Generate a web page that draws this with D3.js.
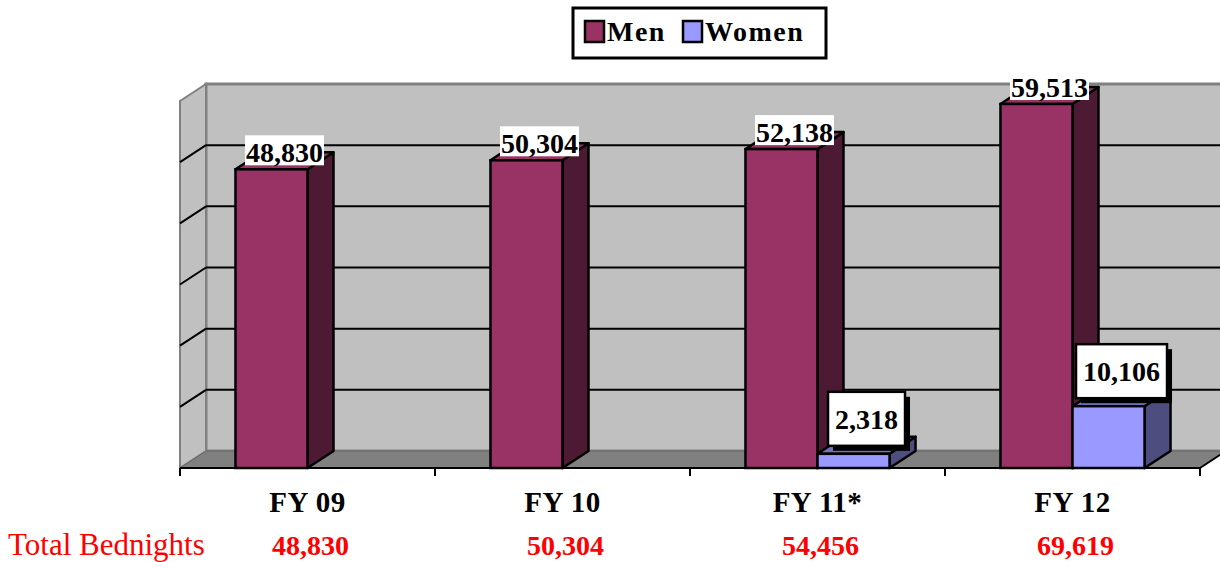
<!DOCTYPE html>
<html>
<head>
<meta charset="utf-8">
<script src="https://cdn.jsdelivr.net/npm/d3@7"></script>
<style>
  body { margin: 0; background: #fff; }
  svg { display: block; }
  text { font-family: "Liberation Serif", "Times New Roman", serif; }
</style>
</head>
<body>
<div id="chart"></div>
<script>
// data
var categories = ["FY 09", "FY 10", "FY 11*", "FY 12"];
var seriesNames = ["Men", "Women"];
var menValues = [48830, 50304, 52138, 59513];
var womenValues = [null, null, 2318, 10106];
var totalBednights = [48830, 50304, 54456, 69619];
var gridValues = [0, 10000, 20000, 30000, 40000, 50000, 60000];

var width = 1220, height = 562;

// depth of the fake 3d box
var depthX = 26, depthY = -17;

var colors = {
  Men: { front: "#993366", top: "#993366", side: "#4d1a33" },
  Women: { front: "#9999ff", top: "#7373c0", side: "#4d4d80" }
};

var svg = d3.select("#chart").append("svg")
    .attr("width", width)
    .attr("height", height);

// x scale on the front plane
var x = d3.scaleBand()
    .domain(categories)
    .range([180, 1200])
    .padding(0);

var xSub = d3.scaleBand()
    .domain(seriesNames)
    .range([0, x.bandwidth()])
    .paddingInner(0)
    .paddingOuter(0.77);

// y scale on the back wall, front plane is shifted by the depth
var yBack = d3.scaleLinear().domain([0, 60000]).range([451, 84]);
function yFront(v) { return yBack(v) - depthY; }

var x0 = x.range()[0], x1 = x.range()[1];
var fmt = d3.format(",");

// back wall
svg.append("rect")
    .attr("x", x0 + depthX)
    .attr("y", yBack(60000))
    .attr("width", x1 - x0)
    .attr("height", yBack(0) - yBack(60000))
    .attr("fill", "#c0c0c0")
    .attr("stroke", "#808080")
    .attr("stroke-width", 3);

// left wall
svg.append("polygon")
    .attr("points", [
      [x0, yFront(60000)], [x0 + depthX, yBack(60000)],
      [x0 + depthX, yBack(0)], [x0, yFront(0)]
    ].join(" "))
    .attr("fill", "#c0c0c0")
    .attr("stroke", "#808080")
    .attr("stroke-width", 2);

// gridlines on back and side wall
var grid = gridValues.filter(function(d) { return d > 0 && d < 60000; });
svg.append("g").selectAll("line.back")
    .data(grid)
    .enter().append("line")
    .attr("x1", x0 + depthX).attr("x2", x1 + depthX)
    .attr("y1", function(d) { return yBack(d); })
    .attr("y2", function(d) { return yBack(d); })
    .attr("stroke", "#000")
    .attr("stroke-width", 2);

svg.append("g").selectAll("line.side")
    .data(grid)
    .enter().append("line")
    .attr("x1", x0).attr("x2", x0 + depthX)
    .attr("y1", function(d) { return yFront(d); })
    .attr("y2", function(d) { return yBack(d); })
    .attr("stroke", "#000")
    .attr("stroke-width", 2);

// floor
svg.append("polygon")
    .attr("points", [
      [x0, yFront(0)], [x1, yFront(0)],
      [x1 + depthX, yBack(0)], [x0 + depthX, yBack(0)]
    ].join(" "))
    .attr("fill", "#808080")
    .attr("stroke", "#666")
    .attr("stroke-width", 1);

// bars
var bars = [];
categories.forEach(function(c, i) {
  bars.push({ cat: c, s: "Men", v: menValues[i] });
  bars.push({ cat: c, s: "Women", v: womenValues[i] });
});
bars = bars.filter(function(d) { return d.v != null; });

var bw = xSub.bandwidth();

var barG = svg.append("g").selectAll("g.bar")
    .data(bars)
    .enter().append("g")
    .attr("class", "bar");

barG.append("polygon")
    .attr("points", function(d) {
      var bx = x(d.cat) + xSub(d.s), t = yFront(d.v), b = yFront(0);
      return [[bx + bw, t], [bx + bw + depthX, t + depthY],
              [bx + bw + depthX, b + depthY], [bx + bw, b]].join(" ");
    })
    .attr("fill", function(d) { return colors[d.s].side; })
    .attr("stroke", "#000")
    .attr("stroke-width", 2.5)
    .attr("stroke-linejoin", "round");

barG.append("polygon")
    .attr("points", function(d) {
      var bx = x(d.cat) + xSub(d.s), t = yFront(d.v);
      return [[bx, t], [bx + depthX, t + depthY],
              [bx + bw + depthX, t + depthY], [bx + bw, t]].join(" ");
    })
    .attr("fill", function(d) { return colors[d.s].top; })
    .attr("stroke", "#000")
    .attr("stroke-width", 2.5)
    .attr("stroke-linejoin", "round");

barG.append("rect")
    .attr("x", function(d) { return x(d.cat) + xSub(d.s); })
    .attr("y", function(d) { return yFront(d.v); })
    .attr("width", bw)
    .attr("height", function(d) { return yFront(0) - yFront(d.v); })
    .attr("fill", function(d) { return colors[d.s].front; })
    .attr("stroke", "#000")
    .attr("stroke-width", 2.5);

// bottom axis line with ticks
svg.append("line")
    .attr("x1", x0).attr("x2", x1)
    .attr("y1", yFront(0)).attr("y2", yFront(0))
    .attr("stroke", "#000").attr("stroke-width", 2);
svg.append("line")
    .attr("x1", x1).attr("x2", x1 + depthX)
    .attr("y1", yFront(0)).attr("y2", yBack(0))
    .attr("stroke", "#000").attr("stroke-width", 2);
svg.append("g").selectAll("line.tick")
    .data(categories.map(function(c) { return x(c); }).concat([x1]))
    .enter().append("line")
    .attr("x1", function(d) { return d; }).attr("x2", function(d) { return d; })
    .attr("y1", yFront(0)).attr("y2", yFront(0) + 8)
    .attr("stroke", "#000").attr("stroke-width", 2);

// data labels
var labelG = svg.append("g").selectAll("g.label")
    .data(bars)
    .enter().append("g")
    .attr("class", "label");

labelG.each(function(d) {
  var g = d3.select(this);
  var cx = x(d.cat) + xSub(d.s) + bw / 2 + depthX / 2;
  var top = yFront(d.v);
  if (d.s === "Men") {
    var bg = g.append("rect").attr("fill", "#fff");
    var t = g.append("text")
        .attr("x", cx)
        .attr("y", top - 7)
        .attr("text-anchor", "middle")
        .attr("font-size", 28)
        .attr("font-weight", "bold")
        .text(fmt(d.v));
    var bb = t.node().getBBox();
    bg.attr("x", bb.x - 1).attr("y", top - 34)
      .attr("width", bb.width + 2).attr("height", 30);
  } else {
    var shadow = g.append("rect").attr("fill", "#000");
    var box = g.append("rect").attr("fill", "#fff")
        .attr("stroke", "#000").attr("stroke-width", 2.5);
    var base = top - 25;
    var t2 = g.append("text")
        .attr("x", cx)
        .attr("y", base)
        .attr("text-anchor", "middle")
        .attr("font-size", 28)
        .attr("font-weight", "bold")
        .text(fmt(d.v));
    var b2 = t2.node().getBBox();
    var bx = b2.x - 7, bwid = b2.width + 14;
    box.attr("x", bx).attr("y", base - 37).attr("width", bwid).attr("height", 54);
    shadow.attr("x", bx + 5).attr("y", base - 32).attr("width", bwid).attr("height", 54);
  }
});

// category labels
svg.append("g").selectAll("text.cat")
    .data(categories)
    .enter().append("text")
    .attr("x", function(d) { return x(d) + x.bandwidth() / 2; })
    .attr("y", 512)
    .attr("text-anchor", "middle")
    .attr("font-size", 29)
    .attr("font-weight", "bold")
    .attr("letter-spacing", 0.5)
    .attr("fill", "#000")
    .text(function(d) { return d; });

// total bednights row
svg.append("text")
    .attr("x", 8)
    .attr("y", 555)
    .attr("font-size", 31)
    .attr("fill", "#ff0000")
    .text("Total Bednights");

svg.append("g").selectAll("text.total")
    .data(totalBednights)
    .enter().append("text")
    .attr("x", function(d, i) { return x(categories[i]) + x.bandwidth() / 2 + 3; })
    .attr("y", 555)
    .attr("text-anchor", "middle")
    .attr("font-size", 28)
    .attr("font-weight", "bold")
    .attr("fill", "#ff0000")
    .text(function(d) { return fmt(d); });

// legend
var legend = svg.append("g");
legend.append("rect")
    .attr("x", 573).attr("y", 8)
    .attr("width", 253).attr("height", 50)
    .attr("fill", "#fff")
    .attr("stroke", "#000")
    .attr("stroke-width", 3);

var legendX = [585, 683];
seriesNames.forEach(function(s, i) {
  legend.append("rect")
      .attr("x", legendX[i]).attr("y", 21)
      .attr("width", 19).attr("height", 21)
      .attr("fill", colors[s].front)
      .attr("stroke", "#000")
      .attr("stroke-width", 2.5);
  legend.append("text")
      .attr("x", legendX[i] + 22)
      .attr("y", 41)
      .attr("font-size", 28)
      .attr("font-weight", "bold")
      .attr("letter-spacing", 1.5)
      .text(s);
});
</script>
</body>
</html>
